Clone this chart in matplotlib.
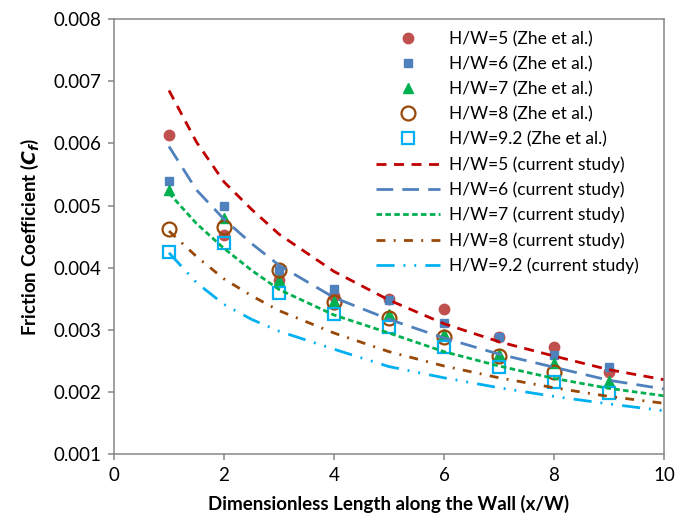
import matplotlib
matplotlib.use("Agg")
import matplotlib.pyplot as plt
from matplotlib.ticker import FormatStrFormatter

plt.rcParams["font.family"] = ["Lato", "DejaVu Sans"]
plt.rcParams["mathtext.fontset"] = "custom"
plt.rcParams["mathtext.it"] = "DejaVu Sans:italic:bold"
plt.rcParams["mathtext.rm"] = "Lato:bold"

# Zhe et al. data (Cf x 1e-3)
x_exp = [1, 2, 3, 4, 5, 6, 7, 8, 9]
x_exp8 = [1, 2, 3, 4, 5, 6, 7, 8]
zhe_5 = [6.14, 4.53, 3.81, 3.54, 3.49, 3.33, 2.88, 2.72, 2.33]
zhe_6 = [5.40, 4.99, 3.97, 3.65, 3.48, 3.11, 2.89, 2.60, 2.41]
zhe_7 = [5.25, 4.80, 3.81, 3.47, 3.25, 2.93, 2.61, 2.47, 2.18]
zhe_8 = [4.62, 4.66, 3.97, 3.45, 3.19, 2.89, 2.58, 2.32]
zhe_92 = [4.26, 4.39, 3.60, 3.25, 3.05, 2.73, 2.40, 2.17, 1.99]

# current study curves (Cf x 1e-3)
x_cur = [1, 1.5, 2, 2.5, 3, 4, 5, 6, 7, 8, 9, 10]
cur_5 = [6.85, 6.02, 5.38, 4.94, 4.54, 3.94, 3.48, 3.10, 2.81, 2.58, 2.36, 2.20]
cur_6 = [5.95, 5.25, 4.78, 4.39, 4.04, 3.52, 3.17, 2.87, 2.61, 2.40, 2.19, 2.05]
cur_7 = [5.20, 4.71, 4.31, 3.96, 3.65, 3.24, 2.95, 2.65, 2.42, 2.22, 2.06, 1.94]
cur_8 = [4.59, 4.18, 3.82, 3.55, 3.31, 2.95, 2.65, 2.42, 2.23, 2.07, 1.93, 1.82]
cur_92 = [4.24, 3.76, 3.41, 3.17, 2.98, 2.69, 2.41, 2.23, 2.07, 1.93, 1.81, 1.70]

scale = 1e-3

fig = plt.figure(figsize=(6.75, 5.19), dpi=100)
ax = fig.add_axes([0.1689, 0.1247, 0.8148, 0.8387])

# markers first, lines on top
ax.plot(x_exp, [v * scale for v in zhe_5], "o", color="#C0504D", ms=7.5, mec="#C0504D",
        label="H/W=5 (Zhe et al.)")
ax.plot(x_exp, [v * scale for v in zhe_6], "s", color="#4F81BD", ms=6, mec="#4F81BD",
        label="H/W=6 (Zhe et al.)")
ax.plot(x_exp, [v * scale for v in zhe_7], "^", color="#00B050", ms=7.5, mec="#00B050",
        label="H/W=7 (Zhe et al.)")
ax.plot(x_exp8, [v * scale for v in zhe_8], "o", mfc="none", mec="#984807", ms=10, mew=1.6,
        label="H/W=8 (Zhe et al.)")
ax.plot(x_exp, [v * scale for v in zhe_92], "s", mfc="none", mec="#00B0F0", ms=8, mew=1.6,
        label="H/W=9.2 (Zhe et al.)")

lw = 2.0
ax.plot(x_cur, [v * scale for v in cur_5], color="#C00000", lw=lw, dashes=(3.6, 2.7),
        label="H/W=5 (current study)")
ax.plot(x_cur, [v * scale for v in cur_6], color="#4F81BD", lw=lw, dashes=(6, 3.3),
        label="H/W=6 (current study)")
ax.plot(x_cur, [v * scale for v in cur_7], color="#00B050", lw=lw, dashes=(2, 1.2),
        label="H/W=7 (current study)")
ax.plot(x_cur, [v * scale for v in cur_8], color="#984807", lw=lw, dashes=(3.2, 3, 0.7, 3),
        label="H/W=8 (current study)")
ax.plot(x_cur, [v * scale for v in cur_92], color="#00B0F0", lw=lw,
        dashes=(6.5, 3.2, 0.7, 3.2, 0.7, 3.3), label="H/W=9.2 (current study)")

ax.set_xlim(0, 10)
ax.set_ylim(0.001, 0.008)
ax.set_xticks([0, 2, 4, 6, 8, 10])
ax.set_yticks([0.001, 0.002, 0.003, 0.004, 0.005, 0.006, 0.007, 0.008])
ax.yaxis.set_major_formatter(FormatStrFormatter("%.3f"))

for s in ax.spines.values():
    s.set_color("#868686")
    s.set_linewidth(1.1)
ax.tick_params(axis="both", colors="#868686", direction="out", length=4, width=1.1,
               labelsize=13.5, labelcolor="black", pad=5)

ax.set_xlabel("Dimensionless Length along the Wall (x/W)", fontsize=13.5, fontweight="bold",
              labelpad=8)
ax.set_ylabel(r"Friction Coefficient ($C_f$)", fontsize=13.5, fontweight="bold", labelpad=9)

ax.legend(loc="upper right", bbox_to_anchor=(0.976, 1.0), frameon=False, fontsize=12.5,
          handlelength=3.7, labelspacing=0.51, handletextpad=0.5, borderaxespad=0.3)

fig.savefig("out.png", dpi=100)
